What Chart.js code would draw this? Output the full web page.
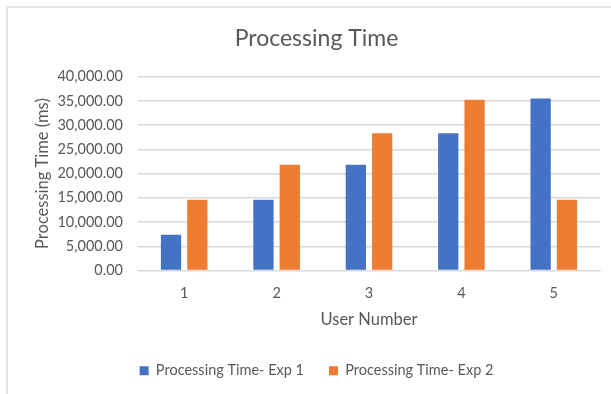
<!DOCTYPE html>
<html>
<head>
<meta charset="utf-8">
<script src="https://cdn.jsdelivr.net/npm/chart.js@4"></script>
<style>
    html, body { margin: 0; padding: 0; background: #fff; }
    #wrap { position: relative; width: 611px; height: 394px; }
    #frame {
        position: absolute; left: 6px; top: 6px; right: 0; bottom: 0;
        border-top: 2px solid #e2e2e2; border-left: 2px solid #e2e2e2;
        pointer-events: none;
    }
    canvas { position: absolute; left: 0; top: 0; }
</style>
</head>
<body>
<div id="wrap">
    <canvas id="timeChart" width="611" height="394"></canvas>
    <div id="frame"></div>
</div>
<script>
/* Processing Time — grouped bars */

const users = ['1', '2', '3', '4', '5'];
const exp1Times = [7400, 14600, 21800, 28300, 35500];
const exp2Times = [14600, 21800, 28300, 35250, 14600];
const yMax = 40000;
const yStep = 5000;

const textGrey = '#595959';
const gridGrey = '#d9d9d9';
const fontFace = 'Lato, "Noto Sans", sans-serif';

document.addEventListener('DOMContentLoaded', () => {
    const ctx = document.getElementById('timeChart').getContext('2d');

    new Chart(ctx, {
        type: 'bar',
        data: {
            labels: users,
            datasets: [{
                label: 'Processing Time- Exp 1',
                data: exp1Times,
                backgroundColor: '#4472c4',
                categoryPercentage: 0.57,
                barPercentage: 0.77
            }, {
                label: 'Processing Time- Exp 2',
                data: exp2Times,
                backgroundColor: '#ed7d31',
                categoryPercentage: 0.57,
                barPercentage: 0.77
            }]
        },
        options: {
            responsive: false,
            animation: false,
            // left padding also shifts the title and legend centre to the right, as in the original
            layout: { padding: { left: 33, right: 11, top: 0, bottom: 6 } },
            plugins: {
                title: {
                    display: true,
                    text: 'Processing Time',
                    color: textGrey,
                    font: { family: fontFace, size: 23, weight: 'normal' },
                    padding: { top: 25, bottom: 24 }
                },
                legend: {
                    position: 'bottom',
                    labels: {
                        color: textGrey,
                        font: { family: fontFace, size: 14.5 },
                        boxWidth: 9,
                        boxHeight: 9,
                        padding: 25
                    }
                },
                tooltip: { enabled: false }
            },
            scales: {
                x: {
                    grid: { display: false, drawTicks: false },
                    border: { display: true, color: gridGrey, width: 1 },
                    ticks: {
                        color: textGrey,
                        font: { family: fontFace, size: 14.5 },
                        padding: 14
                    },
                    title: {
                        display: true,
                        text: 'User Number',
                        color: textGrey,
                        font: { family: fontFace, size: 16.5 },
                        padding: { top: 0, bottom: 9 }
                    },
                    afterFit: (scale) => { scale.height = 68; }
                },
                y: {
                    min: 0,
                    max: yMax,
                    grid: { color: gridGrey, lineWidth: 1.5, drawTicks: false },
                    border: { display: false },
                    ticks: {
                        stepSize: yStep,
                        color: textGrey,
                        font: { family: fontFace, size: 14.5 },
                        padding: 15,
                        callback: (v) => v.toLocaleString('en-US', { minimumFractionDigits: 2, maximumFractionDigits: 2 })
                    },
                    title: {
                        display: true,
                        text: 'Processing Time (ms)',
                        color: textGrey,
                        font: { family: fontFace, size: 16.5 },
                        padding: { top: 0, bottom: 0 }
                    },
                    afterFit: (scale) => { scale.width = 105; }
                }
            }
        }
    });
});
</script>
</body>
</html>
